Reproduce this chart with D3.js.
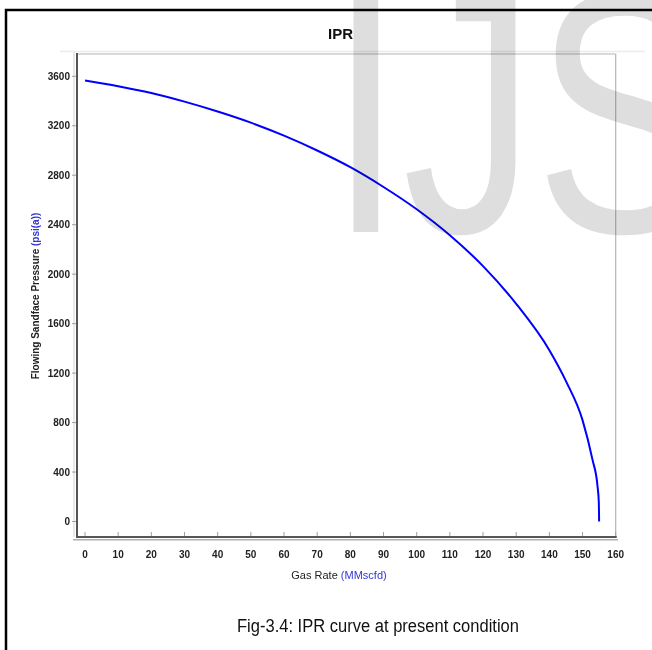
<!DOCTYPE html>
<html>
<head>
<meta charset="utf-8">
<script src="https://cdn.jsdelivr.net/npm/d3@7"></script>
<style>
  html, body { margin: 0; padding: 0; background: #fff; }
  svg { display: block; }
  text { font-family: "Liberation Sans", Arial, sans-serif; }
</style>
</head>
<body>
<svg id="chart" width="652" height="650"></svg>
<script>
// ---- data ----
const gasRate = [0, 10, 20, 30, 40, 50, 60, 70, 80, 90, 100, 110, 120, 130, 140, 145, 150, 153, 154.5, 154.9, 155];
const pressure = [3566, 3520, 3465, 3395, 3315, 3225, 3120, 3000, 2865, 2705, 2525, 2315, 2065, 1760, 1385, 1135, 820, 500, 290, 160, 0];
const xTicks = [0, 10, 20, 30, 40, 50, 60, 70, 80, 90, 100, 110, 120, 130, 140, 150, 160];
const yTicks = [0, 400, 800, 1200, 1600, 2000, 2400, 2800, 3200, 3600];
const chartTitle = "IPR";
const xTitle = ["Gas Rate ", "(MMscfd)"];
const yTitle = ["Flowing Sandface Pressure ", "(psi(a))"];
const caption = "Fig-3.4: IPR curve at present condition";
const watermark = "IJS";

const svg = d3.select("#chart");

// outer black frame (extends beyond the right/bottom edges)
svg.append("rect").attr("x", 6).attr("y", 10).attr("width", 720).attr("height", 720)
  .attr("fill", "none").attr("stroke", "#000").attr("stroke-width", 2.5);

// scales
const x = d3.scaleLinear().domain([0, 160]).range([85, 615.7]);
const y = d3.scaleLinear().domain([0, 3600]).range([521.5, 76.3]);

const pLeft = 77, pRight = 615.7, pTop = 54, pBottom = 537;

// bevel / panel
svg.append("line").attr("x1", 60).attr("x2", 645).attr("y1", 51.5).attr("y2", 51.5)
  .attr("stroke", "#ececec").attr("stroke-width", 1.5);
svg.append("line").attr("x1", 74).attr("x2", 74).attr("y1", 52).attr("y2", pBottom)
  .attr("stroke", "#e2e2e2").attr("stroke-width", 1.5);
svg.append("line").attr("x1", pLeft).attr("x2", pRight).attr("y1", pTop).attr("y2", pTop)
  .attr("stroke", "#b4b4b4").attr("stroke-width", 1.2);
svg.append("line").attr("x1", pRight).attr("x2", pRight).attr("y1", pTop).attr("y2", pBottom)
  .attr("stroke", "#b4b4b4").attr("stroke-width", 1.2);

// x axis ticks (pointing up into plot)
const gx = svg.append("g");
gx.selectAll("line.t").data(xTicks).join("line").attr("class", "t")
  .attr("x1", d => x(d)).attr("x2", d => x(d)).attr("y1", pBottom - 5).attr("y2", pBottom)
  .attr("stroke", "#a0a0a0").attr("stroke-width", 1);
gx.selectAll("text").data(xTicks).join("text")
  .attr("x", d => x(d)).attr("y", 558).attr("text-anchor", "middle")
  .attr("font-size", 10).attr("font-weight", "bold").attr("fill", "#222")
  .text(d => d);

// y axis ticks (pointing left)
const gy = svg.append("g");
gy.selectAll("line.t").data(yTicks).join("line").attr("class", "t")
  .attr("x1", pLeft - 5).attr("x2", pLeft).attr("y1", d => y(d)).attr("y2", d => y(d))
  .attr("stroke", "#a0a0a0").attr("stroke-width", 1);
gy.selectAll("text").data(yTicks).join("text")
  .attr("x", 70).attr("y", d => y(d)).attr("dy", "0.35em").attr("text-anchor", "end")
  .attr("font-size", 10).attr("font-weight", "bold").attr("fill", "#222")
  .text(d => d);

// axis lines
svg.append("line").attr("x1", 73).attr("x2", 618).attr("y1", pBottom + 2.8).attr("y2", pBottom + 2.8)
  .attr("stroke", "#b0b0b0").attr("stroke-width", 1.5);
svg.append("line").attr("x1", pLeft).attr("x2", pLeft).attr("y1", pTop - 1).attr("y2", pBottom)
  .attr("stroke", "#555").attr("stroke-width", 2);
svg.append("line").attr("x1", pLeft - 1).attr("x2", pRight + 1).attr("y1", pBottom).attr("y2", pBottom)
  .attr("stroke", "#555").attr("stroke-width", 2);

// curve
const pts = gasRate.map((q, i) => [q, pressure[i]]);
const line = d3.line().x(d => x(d[0])).y(d => y(d[1])).curve(d3.curveMonotoneX);
svg.append("path").datum(pts).attr("d", line)
  .attr("fill", "none").attr("stroke", "#0000ff").attr("stroke-width", 2);

// titles
svg.append("text").attr("x", 340.5).attr("y", 39).attr("text-anchor", "middle")
  .attr("font-size", 15).attr("font-weight", "bold").attr("fill", "#111").text(chartTitle);

const xt = svg.append("text").attr("x", 339).attr("y", 579).attr("text-anchor", "middle")
  .attr("font-size", 11);
xt.append("tspan").attr("fill", "#222").text(xTitle[0]);
xt.append("tspan").attr("fill", "#3535d5").text(xTitle[1]);

const yt = svg.append("text").attr("transform", "translate(38.5,296) rotate(-90)")
  .attr("text-anchor", "middle").attr("font-size", 10).attr("font-weight", "bold");
yt.append("tspan").attr("fill", "#222").text(yTitle[0]);
yt.append("tspan").attr("fill", "#3535d5").text(yTitle[1]);

// caption
svg.append("text").attr("x", 237).attr("y", 632)
  .attr("font-size", 18).attr("fill", "#111")
  .attr("textLength", 282).attr("lengthAdjust", "spacingAndGlyphs")
  .text(caption);

// watermark
svg.append("text").attr("transform", "translate(329,232) scale(1,1.3)")
  .attr("font-size", 265).attr("fill", "#dedede")
  .style("mix-blend-mode", "multiply")
  .text(watermark);
</script>
</body>
</html>
